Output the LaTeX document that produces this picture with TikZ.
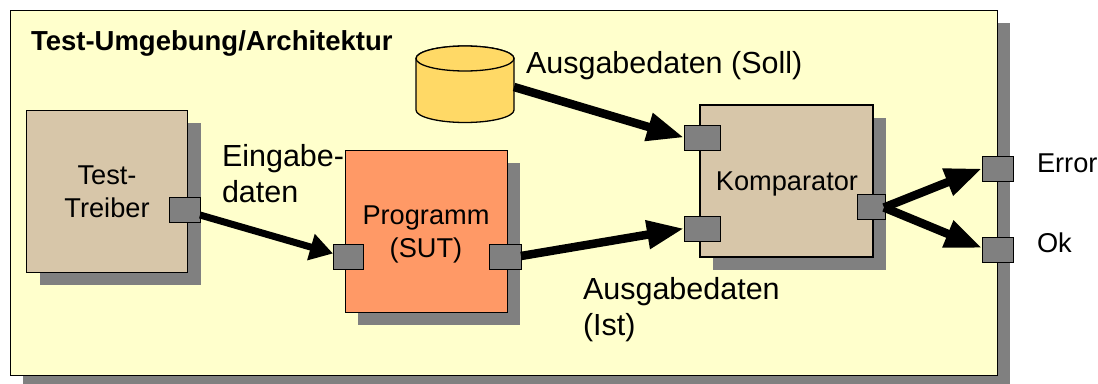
\documentclass[tikz,border=0pt]{standalone}
\usepackage{fontspec}
\setmainfont{Liberation Sans}
\usetikzlibrary{shadows,arrows.meta,calc}
\definecolor{frameyellow}{HTML}{FFFFCC}
\definecolor{shadowgray}{HTML}{808080}
\definecolor{boxtan}{HTML}{D7C6A9}
\definecolor{boxorange}{HTML}{FF9966}
\definecolor{dbyellow}{HTML}{FFD966}
\tikzset{
  x=1pt,y=-1pt,
  shadowed/.style={draw=black,line width=1pt,inner sep=0pt,outer sep=0pt,
    drop shadow={shadow xshift=13pt,shadow yshift=-13pt,opacity=1,fill=shadowgray}},
  unittext/.style={align=center,inner sep=0pt,outer sep=0pt,font=\fontsize{27.2}{33}\selectfont},
  port/.style={draw=black,fill=shadowgray,line width=1pt,inner sep=0pt,outer sep=0pt,minimum height=25pt},
  label/.style={font=\fontsize{30.5}{36}\selectfont,align=left,inner sep=0pt,outer sep=0pt},
  small/.style={font=\fontsize{27.2}{32}\selectfont,inner sep=0pt,outer sep=0pt},
  flow/.style={line width=8.5pt,-{Triangle[length=37pt,width=27pt]}},
  thinflow/.style={line width=7pt,-{Triangle[length=23pt,width=26pt]}},
  dbshape/.style={draw=black,line width=1.3pt,fill=dbyellow},
}
\begin{document}
\begin{tikzpicture}
\useasboundingbox (0,0) rectangle (1098,383);
\node[shadowed,fill=frameyellow,minimum width=987pt,minimum height=365pt] (frame) at (503.5,192.5) {};
\node[small,anchor=base west,font=\bfseries\fontsize{27.5}{32}\selectfont] (title) at (31,50) {Test-Umgebung/Architektur};
\node[shadowed,fill=boxtan,minimum width=161pt,minimum height=162pt] (driver) at (107,191) {};
\node[unittext] (drivertext) at (107,192) {Test-\\Treiber};
\node[shadowed,fill=boxorange,minimum width=162pt,minimum height=162pt] (sut) at (426,231) {};
\node[unittext] (suttext) at (426,234) {Programm\\(SUT)};
\node[shadowed,line width=2pt,fill=boxtan,minimum width=173pt,minimum height=152pt] (cmp) at (786.5,181) {};
\node[unittext] (cmptext) at (787,184) {Komparator};
\node[inner sep=0pt,outer sep=0pt,minimum width=98pt,minimum height=78pt] (db) at (465,84.5) {};
\draw[dbshape] (db.west |- 0,58.5) -- (db.west |- 0,110) arc[start angle=180,end angle=360,x radius=49pt,y radius=12.5pt] -- (db.east |- 0,58.5) arc[start angle=0,end angle=180,x radius=49pt,y radius=12.5pt] -- cycle;
\draw[dbshape] (db.north |- 0,58.5) ellipse[x radius=49pt,y radius=12.5pt];
\node[port,minimum width=31pt] (pa) at (184.5,209.5) {};
\node[port,minimum width=30pt] (pb) at (348,256.5) {};
\node[port,minimum width=32pt] (pc) at (505,256.5) {};
\node[port,minimum width=36pt] (pd) at (702,137.5) {};
\node[port,minimum width=36pt] (pe) at (702,228.5) {};
\node[port,minimum width=28pt] (pf) at (871,206.5) {};
\node[port,minimum width=31pt] (pg) at (997.5,168.5) {};
\node[port,minimum width=31pt] (ph) at (997.5,249.5) {};
\draw[thinflow] ($(pa.east)+(0,5.5)$) -- ($(pb.west)+(0,-3)$);
\draw[flow] ($(db.east)+(0,2.5)$) -- (pd.west);
\draw[flow] ($(pc.east)+(0,-0.5)$) -- (pe.west);
\draw[flow] ($(pf.east)+(-1,1)$) -- (pg.west);
\draw[flow] ($(pf.east)+(-1,1)$) -- ($(ph.west)+(0,-1.5)$);
\node[label,anchor=base west] (soll) at (526,73) {Ausgabedaten (Soll)};
\node[label,anchor=west] (ein) at (222,174) {Eingabe-\\daten};
\node[label,anchor=west] (ist) at (583,310) {Ausgabedaten\\(Ist)};
\node[small,anchor=base west] (err) at (1037,172) {Error};
\node[small,anchor=base west] (ok) at (1037,252) {Ok};
\end{tikzpicture}
\end{document}
